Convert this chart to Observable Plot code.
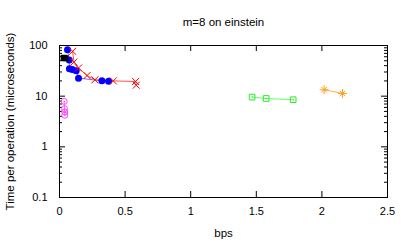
<!DOCTYPE html>
<html><head>
<meta charset="utf-8">
<script src="https://cdn.jsdelivr.net/npm/d3@7"></script>
<script src="https://cdn.jsdelivr.net/npm/@observablehq/plot@0.6"></script>
<style>body{margin:0;background:#fff}svg{display:block}</style>
</head><body><div id="chart"></div>
<script>
const title = "m=8 on einstein";
const xLabel = "bps";
const yLabel = "Time per operation (microseconds)";
const xTicks = [0, 0.5, 1, 1.5, 2, 2.5];
const yTicks = [0.1, 1, 10, 100];
const yMinor = [2,3,4,5,6,7,8,9].flatMap(m => [0.1, 1, 10].map(d => m * d));

// series (bps, microseconds)
const redBps  = [0.100, 0.110, 0.145, 0.210, 0.270, 0.410, 0.580, 0.585];
const redTime = [77, 47, 36, 25.5, 21, 20, 19.5, 16.5];
const blueBps  = [0.061, 0.074, 0.076, 0.097, 0.127, 0.145, 0.323, 0.374];
const blueTime = [82, 52, 34.7, 33.6, 31.6, 22.7, 20.1, 19.8];
const blackBps  = [0.032, 0.045];
const blackTime = [57, 56];
const magentaBps  = [0.036, 0.038, 0.040, 0.040];
const magentaTime = [7.9, 5.66, 4.87, 4.2];
const greenBps  = [1.468, 1.575, 1.781];
const greenTime = [9.6, 9.0, 8.5];
const orangeBps  = [2.017, 2.157];
const orangeTime = [13.4, 11.3];

const rows = (xs, ys) => xs.map((x, i) => ({x, y: ys[i]}));
const red = rows(redBps, redTime), blue = rows(blueBps, blueTime), black = rows(blackBps, blackTime);
const magenta = rows(magentaBps, magentaTime), green = rows(greenBps, greenTime), orange = rows(orangeBps, orangeTime);

const W = 407, H = 244, mL = 59, mR = 20, mT = 45, mB = 47;
const iW = W - mL - mR, iH = H - mT - mB;

const chart = Plot.plot({
  width: W, height: H,
  marginLeft: mL, marginRight: mR, marginTop: mT, marginBottom: mB,
  style: {fontFamily: "'Liberation Sans', Arial, sans-serif", fontSize: "11px", background: "#fff", color: "#000"},
  x: {domain: [0, 2.5]},
  y: {type: "log", domain: [0.1, 100]},
  marks: [
    Plot.frame({stroke: "#000"}),
    Plot.ruleX(xTicks, {x: d => d, insetTop: iH - 6, stroke: "#000"}),
    Plot.ruleX(xTicks, {x: d => d, insetBottom: iH - 6, stroke: "#000"}),
    Plot.ruleY(yTicks, {y: d => d, insetRight: iW - 6, stroke: "#000"}),
    Plot.ruleY(yTicks, {y: d => d, insetLeft: iW - 6, stroke: "#000"}),
    Plot.ruleY(yMinor, {y: d => d, insetRight: iW - 3, stroke: "#000"}),
    Plot.ruleY(yMinor, {y: d => d, insetLeft: iW - 3, stroke: "#000"}),
    Plot.axisX(xTicks, {tickSize: 0, tickPadding: 10, label: null, tickFormat: d => String(d)}),
    Plot.axisY(yTicks, {tickSize: 0, tickPadding: 12, label: null, tickFormat: d => String(d)}),
    Plot.text([title], {frameAnchor: "top", dy: -23, text: d => d, fontSize: 11.5, textAnchor: "middle", lineAnchor: "middle"}),
    Plot.text([xLabel], {frameAnchor: "bottom", dy: 36, text: d => d, fontSize: 11.5, textAnchor: "middle", lineAnchor: "middle"}),
    Plot.text([yLabel], {frameAnchor: "left", dx: -49, rotate: -90, text: d => d, fontSize: 11.5, textAnchor: "middle", lineAnchor: "middle"}),
    // lines
    Plot.line(blue, {x: "x", y: "y", stroke: "#6f6fff", strokeWidth: 1}),
    Plot.line(red, {x: "x", y: "y", stroke: "#ff5050", strokeWidth: 1}),
    Plot.line(black, {x: "x", y: "y", stroke: "#000", strokeWidth: 1}),
    Plot.line(magenta, {x: "x", y: "y", stroke: "#ff66ff", strokeWidth: 1}),
    Plot.line(green, {x: "x", y: "y", stroke: "#66ff66", strokeWidth: 1}),
    Plot.line(orange, {x: "x", y: "y", stroke: "#ffb040", strokeWidth: 1}),
    // points
    Plot.dot(blue, {x: "x", y: "y", symbol: "circle", fill: "#0000ff", r: 3.5}),
    Plot.dot(red, {x: "x", y: "y", symbol: "times", stroke: "#ff0000", r: 3.3, strokeWidth: 1}),
    Plot.dot(black, {x: "x", y: "y", symbol: "square", fill: "#000", r: 3.5}),
    Plot.dot(magenta, {x: "x", y: "y", symbol: "circle", stroke: "#ff44ff", r: 3, strokeWidth: 1}),
    Plot.dot(magenta, {x: "x", y: "y", symbol: "circle", fill: "#ff44ff", r: 0.7}),
    Plot.dot(green, {x: "x", y: "y", symbol: "square2", stroke: "#22ee22", r: 3.6, strokeWidth: 1}),
    Plot.dot(green, {x: "x", y: "y", symbol: "circle", fill: "#22ee22", r: 0.7}),
    Plot.dot(orange, {x: "x", y: "y", symbol: "plus", stroke: "#ffa020", r: 3, strokeWidth: 1}),
    Plot.dot(orange, {x: "x", y: "y", symbol: "times", stroke: "#ffa020", r: 2.6, strokeWidth: 1})
  ]
});
document.getElementById("chart").append(chart);
</script>
</body></html>
